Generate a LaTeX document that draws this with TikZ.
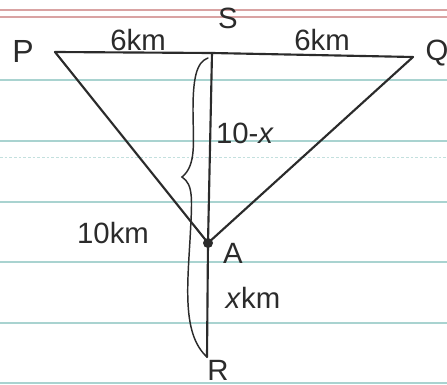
\documentclass[tikz,border=0pt]{standalone}
\usepackage{fontspec}
\setmainfont{Liberation Sans}
\definecolor{inkc}{HTML}{2B2B2B}
\definecolor{redrule}{HTML}{D9A3A3}
\definecolor{bluerule}{HTML}{A9D3D0}
\begin{document}
\begin{tikzpicture}[x=0.75pt,y=-0.75pt,
  ink/.style={draw=inkc, line width=1.6pt, line cap=round, line join=round},
  bracestyle/.style={draw=inkc, line width=1.1pt, line cap=round},
  lbl/.style={text=inkc, font=\fontsize{22}{26}\selectfont, inner sep=0pt},
  bigl/.style={lbl, font=\fontsize{24}{28}\selectfont},
  redline/.style={draw=redrule, line width=0.9pt},
  blueline/.style={draw=bluerule, line width=0.8pt},
  dotline/.style={draw=bluerule!70, line width=0.6pt, dash pattern=on 2pt off 1.5pt}]
\fill[white] (0,0) rectangle (447,385);
\useasboundingbox (0,0) rectangle (447,385);
% paper rules
\draw[redline] (0,10) -- (447,10);
\draw[redline] (0,17) -- (447,17);
\foreach \yy in {80,141,202,262,323,383} \draw[blueline] (0,\yy) -- (447,\yy);
\draw[dotline] (0,157) -- (447,157);
% points
\coordinate (P) at (55,52);
\coordinate (S) at (212,53);
\coordinate (Q) at (413,57);
\coordinate (A) at (208,243);
\coordinate (R) at (207,357);
\coordinate (bt) at (208,58);
\coordinate (bb) at (207,357);
% lines
\draw[ink] (P) -- (S) -- (Q);
\draw[ink] (S) -- (A) -- (R);
\draw[ink] (P) -- (A) -- (Q);
\fill[inkc] (A) circle (5);
% brace
\draw[bracestyle] (bt) .. controls (196,62) and (193,80) .. (193,110)
  .. controls (193,140) and (197,165) .. (182,177)
  .. controls (194,185) and (192,200) .. (190,240)
  .. controls (187,290) and (183,335) .. (bb);
% labels
\node[bigl] (lP) at (23,51) {P};
\node[lbl] (lS) at (228,18) {S};
\node[lbl] (lQ) at (437,53) {Q};
\node[lbl] (l6a) at (138,40) {6km};
\node[lbl] (l6b) at (322,40) {6km};
\node[lbl] (l10x) at (245,133) {10-\textit{x}};
\node[lbl] (l10) at (113,233) {10km};
\node[lbl] (lA) at (233,253) {A};
\node[lbl] (lx) at (253,298) {\textit{x}km};
\node[lbl] (lR) at (218,370) {R};
\end{tikzpicture}
\end{document}
